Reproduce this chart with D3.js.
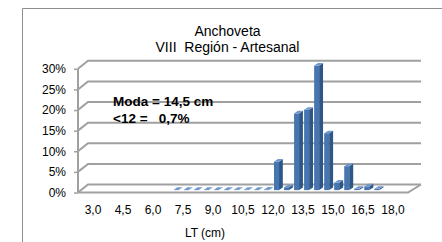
<!DOCTYPE html>
<html>
<head>
<meta charset="utf-8">
<script src="https://cdn.jsdelivr.net/npm/d3@7"></script>
<style>
  html, body { margin: 0; padding: 0; background: #fff; }
  svg { display: block; font-family: "Liberation Sans", Arial, sans-serif; }
  text { white-space: pre; }
</style>
</head>
<body>
<div id="chart"></div>
<script>
// length classes (cm), one bar per class
const categories = ["2,5","3,0","3,5","4,0","4,5","5,0","5,5","6,0","6,5",
  "7,0","7,5","8,0","8,5","9,0","9,5","10,0","10,5","11,0","11,5",
  "12,0","12,5","13,0","13,5","14,0","14,5","15,0","15,5","16,0","16,5","17,0",
  "17,5","18,0","18,5"];
// percent of catch
const values = [null,null,null,null,null,null,null,null,null,
  0.05,0.05,0.05,0.05,0.05,0.05,0.1,0.1,0.05,0.15,
  6.9,0.7,18.6,19.5,30.2,13.8,1.8,5.8,0.3,0.9,0.3,
  null,null,null];
const xTickLabels = ["3,0","4,5","6,0","7,5","9,0","10,5","12,0","13,5","15,0","16,5","18,0"];
const yTicks = [0, 5, 10, 15, 20, 25, 30];

const width = 442, height = 242;
const depth = { dy: 8 };
const grid = "#a0a0a0";

const svg = d3.select("#chart").append("svg")
  .attr("width", width)
  .attr("height", height);

// outer chart border (only left and top visible)
svg.append("path")
  .attr("d", "M22.5,242 V8.5 H442")
  .attr("fill", "none")
  .attr("stroke", "#8e8e8e")
  .attr("stroke-width", 1);

const x = d3.scaleBand().domain(categories).range([78, 408]).padding(0);
const y = d3.scaleLinear().domain([0, 30]).range([192.5, 68.8]);

// oblique projection, slightly widening to the right
const dxAt = xf => 10 + 3 * (xf - 78) / 330;
const proj = (xf, yf, z) => [xf + z * dxAt(xf), yf - z * depth.dy];

const walls = svg.append("g")
  .attr("fill", "none")
  .attr("stroke", grid)
  .attr("stroke-width", 2);

yTicks.forEach(t => {
  const yf = y(t);
  const a = proj(78, yf, 0), b = proj(78, yf, 1), c = proj(408, yf, 1);
  walls.append("path").attr("d", d3.line()([a, b, c]));
});
// floor front and right edge
walls.append("path").attr("d", d3.line()([proj(78, y(0), 0), proj(408, y(0), 0), proj(408, y(0), 1)]));
// front vertical axis
walls.append("path").attr("d", d3.line()([proj(78, y(0), 0), proj(78, y(30), 0)]));

// y axis labels
const yAxis = svg.append("g")
  .attr("transform", "translate(78,0)")
  .call(d3.axisLeft(y).tickValues(yTicks).tickSize(4).tickPadding(8).tickFormat(d => d + "%"));
yAxis.select(".domain").remove();
yAxis.selectAll(".tick line").attr("stroke", grid).attr("stroke-width", 1.5);
yAxis.selectAll("text").attr("font-size", "12px").attr("fill", "#000")
  .attr("font-family", "'Liberation Sans', Arial, sans-serif");

// x axis labels
const xAxis = svg.append("g")
  .attr("transform", "translate(0,205)")
  .call(d3.axisBottom(x).tickValues(xTickLabels).tickSize(0).tickPadding(0));
xAxis.select(".domain").remove();
xAxis.selectAll("text").attr("font-size", "12px").attr("fill", "#000")
  .attr("font-family", "'Liberation Sans', Arial, sans-serif");

// 3D bars
const bars = categories.map((c, i) => ({ cat: c, v: values[i] })).filter(d => d.v !== null);
const half = 2.5, z0 = 0.3, z1 = 0.62;
const poly = pts => "M" + pts.map(p => p.join(",")).join("L") + "Z";

const g = svg.append("g");
bars.forEach(d => {
  const xc = x(d.cat) + x.bandwidth() / 2;
  const yb = y(0), yt = y(d.v);
  const xl = xc - half, xr = xc + half;
  // front face
  g.append("path").attr("fill", "#4676b0")
    .attr("d", poly([proj(xl, yb, z0), proj(xr, yb, z0), proj(xr, yt, z0), proj(xl, yt, z0)]));
  // right side
  g.append("path").attr("fill", "#2e5688")
    .attr("d", poly([proj(xr, yb, z0), proj(xr, yb, z1), proj(xr, yt, z1), proj(xr, yt, z0)]));
  // top
  g.append("path").attr("fill", "#6f99cc")
    .attr("d", poly([proj(xl, yt, z0), proj(xr, yt, z0), proj(xr, yt, z1), proj(xl, yt, z1)]));
});

// titles
svg.append("text").attr("x", 227.5).attr("y", 36).attr("text-anchor", "middle")
  .attr("font-size", "14px").text("Anchoveta");
svg.append("text").attr("x", 227.5).attr("y", 51.5).attr("text-anchor", "middle")
  .attr("font-size", "14px").text("VIII  Región - Artesanal");

// annotation
svg.append("text").attr("x", 113).attr("y", 106).attr("font-size", "13.5px")
  .attr("font-weight", "bold").text("Moda = 14,5 cm");
svg.append("text").attr("x", 113).attr("y", 123).attr("font-size", "13.5px")
  .attr("font-weight", "bold").text("<12 =   0,7%");

// x axis title
svg.append("text").attr("x", 205).attr("y", 237).attr("text-anchor", "middle")
  .attr("font-size", "12px").text("LT (cm)");
</script>
</body>
</html>
